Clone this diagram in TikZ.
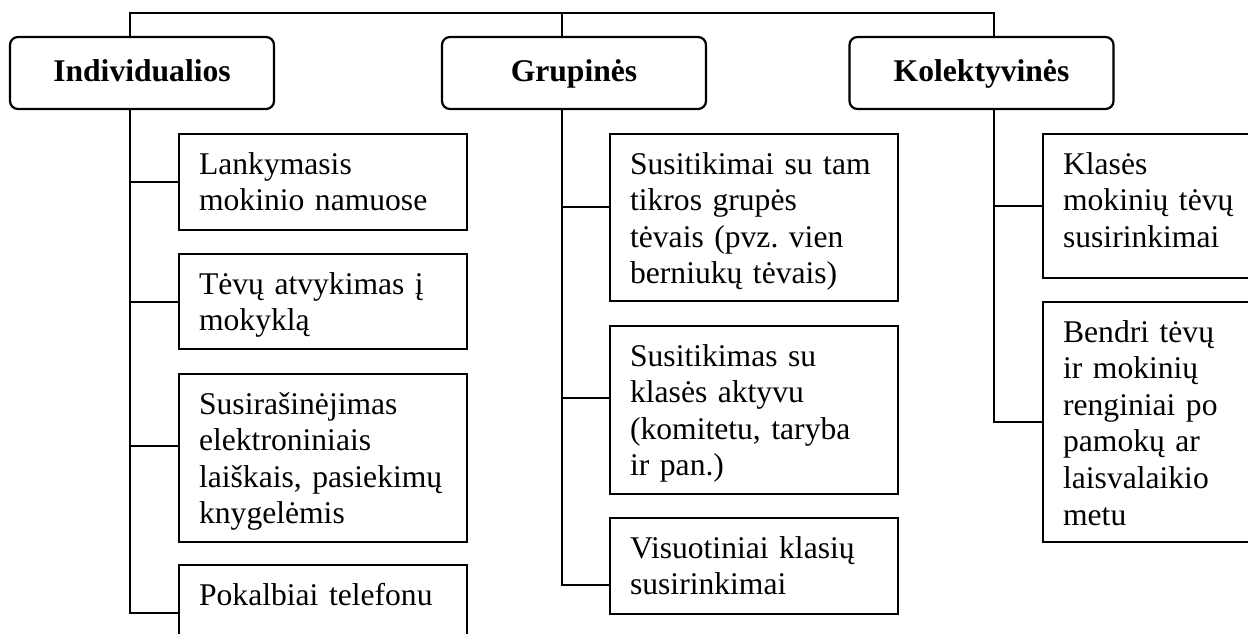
\documentclass[tikz,border=0pt]{standalone}
\usepackage{fontspec}
\setmainfont{Liberation Serif}
\usepackage{tikz}
\frenchspacing

\tikzset{
  link/.style={line width=1.1pt},
  head/.style={draw, line width=1.1pt, rounded corners=4pt,
    minimum width=132pt, minimum height=36pt,
    text height=8pt, text depth=0pt,
    font=\fontsize{15.8pt}{18.3pt}\selectfont\bfseries},
  item/.style={draw, line width=1.1pt, anchor=north west, align=left,
    text width=124pt, inner xsep=10pt, inner ysep=0pt,
    text height=20pt, text depth=#1,
    font=\fontsize{15.8pt}{18.3pt}\selectfont}
}

\begin{document}
\begin{tikzpicture}[x=0.5pt, y=-0.5pt]
		\useasboundingbox (0,0) rectangle (1248,633);
		\clip (0,0) rectangle (1248,633);
		% headers
		\node[head] (ind) at (142,73) {Individualios};
		\node[head] (grp) at (574,73) {Grupinės};
		\node[head] (kol) at (981.5,73) {Kolektyvinės};
		\coordinate (ta) at (130,13);
		\coordinate (tb) at (562,13);
		\coordinate (tc) at (994,13);
		% items
		\node[item=28pt] (l1) at (178,133) {Lankymasis\\mokinio namuose};
		\node[item=27.5pt] (l2) at (178,253) {Tėvų atvykimas į\\mokyklą};
		\node[item=64pt] (l3) at (178,373) {Susirašinėjimas\\elektroniniais\\laiškais, pasiekimų\\knygelėmis};
		\node[item=28pt] (l4) at (178,564) {Pokalbiai telefonu};
		\node[item=63.5pt] (m1) at (609,133) {Susitikimai su tam\\tikros grupės\\tėvais (pvz. vien\\berniukų tėvais)};
		\node[item=64pt] (m2) at (609,325) {Susitikimas su\\klasės aktyvu\\(komitetu, taryba\\ir pan.)};
		\node[item=28pt] (m3) at (609,517) {Visuotiniai klasių\\susirinkimai};
		\node[item=52pt] (r1) at (1042,133) {Klasės\\mokinių tėvų\\susirinkimai};
		\node[item=100pt] (r2) at (1042,301) {Bendri tėvų\\ir mokinių\\renginiai po\\pamokų ar\\laisvalaikio\\metu};
		% connector ends off the box middles
		\coordinate (l3w) at ([yshift=6pt]l3.west);
		\coordinate (m1w) at ([yshift=5.25pt]m1.west);
		\coordinate (m2w) at ([yshift=6pt]m2.west);
		\coordinate (m3w) at ([yshift=-9.5pt]m3.west);
		% top bar
		\draw[link] (ind.north -| ta) -- (ta) -- (tc) -- (kol.north -| tc);
		\draw[link] (tb) -- (grp.north -| tb);
		% trunks
		\draw[link] (ind.south -| ta) |- (l4.west);
		\draw[link] (ta |- l1.west) -- (l1.west);
		\draw[link] (ta |- l2.west) -- (l2.west);
		\draw[link] (ta |- l3w) -- (l3w);
		\draw[link] (grp.south -| tb) |- (m3w);
		\draw[link] (tb |- m1w) -- (m1w);
		\draw[link] (tb |- m2w) -- (m2w);
		\draw[link] (kol.south -| tc) |- (r2.west);
		\draw[link] (tc |- r1.west) -- (r1.west);
	\end{tikzpicture}
\end{document}
